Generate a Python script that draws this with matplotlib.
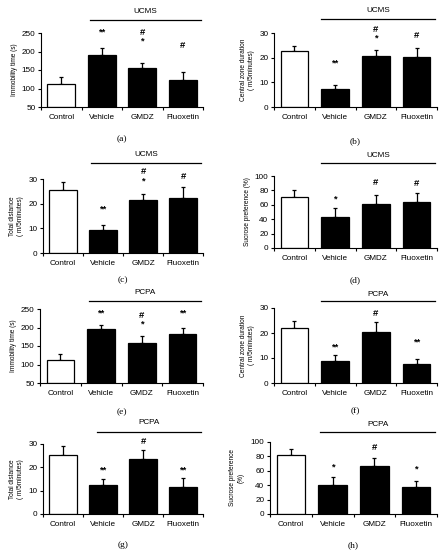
import numpy as np
import matplotlib
matplotlib.use("Agg")
import matplotlib.pyplot as plt
import matplotlib.transforms as mtransforms

plt.rcParams["font.family"] = ["Liberation Sans", "DejaVu Sans"]

# ─── data ────────────────────────────────────────────────────────────────────
groups = ["Control", "Vehicle", "GMDZ", "Fluoxetin"]

immob_ucms = [112, 191, 155, 123]
immob_ucms_err = [20, 18, 13, 22]
immob_ucms_sig = ["", "**", "#\n*", "#"]
immob_ucms_sig_y = [0, 240, 216, 203]

central_ucms = [22.6, 7.3, 20.5, 20.3]
central_ucms_err = [2.0, 1.5, 2.7, 3.6]
central_ucms_sig = ["", "**", "#\n*", "#"]
central_ucms_sig_y = [0, 16.0, 26.0, 27.0]

dist_ucms = [25.7, 9.2, 21.4, 22.3]
dist_ucms_err = [3.1, 2.0, 2.5, 4.5]
dist_ucms_sig = ["", "**", "#\n*", "#"]
dist_ucms_sig_y = [0, 16.0, 27.5, 29.0]

sucrose_ucms = [71.4, 42.4, 60.8, 64.5]
sucrose_ucms_err = [9.2, 12.9, 12.9, 11.5]
sucrose_ucms_sig = ["", "*", "#", "#"]
sucrose_ucms_sig_y = [0, 62, 85, 84]

immob_pcpa = [113, 196, 157, 183]
immob_pcpa_err = [16, 11, 19, 15]
immob_pcpa_sig = ["", "**", "#\n*", "**"]
immob_pcpa_sig_y = [0, 228, 196, 228]

central_pcpa = [22.2, 8.9, 20.6, 7.8]
central_pcpa_err = [2.7, 2.5, 3.8, 2.0]
central_pcpa_sig = ["", "**", "#", "**"]
central_pcpa_sig_y = [0, 12.5, 26.0, 14.5]

dist_pcpa = [25.4, 12.3, 23.6, 11.4]
dist_pcpa_err = [3.9, 2.8, 3.7, 4.0]
dist_pcpa_sig = ["", "**", "#", "**"]
dist_pcpa_sig_y = [0, 17.0, 29.0, 17.0]

sucrose_pcpa = [82.3, 40.5, 66.5, 37.7]
sucrose_pcpa_err = [7.7, 10.5, 11.2, 8.3]
sucrose_pcpa_sig = ["", "*", "#", "*"]
sucrose_pcpa_sig_y = [0, 59, 86, 56]

W, H = 444, 550
fig = plt.figure(figsize=(W / 100, H / 100), dpi=100)


def panel(box, vals, errs, sig, sig_y, ylim, yticks, ylabel, group, tag, tag_y, line_x0, ylabel_x=None):
    left, right, top, bottom = box
    ax = fig.add_axes([left / W, 1 - bottom / H, (right - left) / W, (bottom - top) / H])
    x = np.arange(len(groups))
    base = ylim[0]
    heights = np.array(vals) - base
    colors = ["white"] + ["black"] * (len(groups) - 1)
    ax.bar(x, heights, bottom=base, width=0.68, color=colors, edgecolor="black", linewidth=0.9, zorder=2)
    ax.errorbar(x, vals, yerr=[np.zeros(len(errs)), errs], fmt="none", ecolor="black",
                elinewidth=0.9, capsize=1.6, capthick=0.9, zorder=1)
    for xi, s, sy in zip(x, sig, sig_y):
        if s:
            ax.text(xi, sy, s, ha="center", va="bottom", fontsize=6.8, linespacing=1.0,
                    fontweight="bold")
    ax.set_xlim(-0.5, 3.5)
    ax.set_ylim(*ylim)
    ax.set_yticks(yticks)
    ax.set_xticks(x)
    ax.set_xticklabels(groups)
    ax.set_xticks(np.arange(-0.5, 4.0, 1.0), minor=True)
    ax.tick_params(axis="x", which="major", length=0, labelsize=5.9, pad=5)
    ax.tick_params(axis="x", which="minor", length=2.5, width=0.8)
    ax.tick_params(axis="y", length=2.5, width=0.8, labelsize=5.9, pad=1.5)
    for s in ["top", "right"]:
        ax.spines[s].set_visible(False)
    for s in ["left", "bottom"]:
        ax.spines[s].set_linewidth(0.8)
    ax.set_ylabel(ylabel, fontsize=4.7, labelpad=3, linespacing=1.3)
    if ylabel_x is not None:
        ax.yaxis.set_label_coords(ylabel_x, 0.5)

    # group bracket line + label
    trans = mtransforms.blended_transform_factory(ax.transData, ax.transAxes)
    h = bottom - top
    ly = 1 + (top - group[1]) / h
    ax.plot([line_x0, 3.45], [ly, ly], color="black", lw=0.9, transform=trans, clip_on=False)
    ax.text((line_x0 + 3.45) / 2, 1 + (top - group[2]) / h, group[0], transform=trans,
            ha="center", va="center", fontsize=5.9)
    fig.text((left + right) / 2 / W, 1 - tag_y / H, tag, ha="center", va="center",
             fontsize=6.8, family=["Liberation Serif", "DejaVu Serif"])
    return ax


panel((41, 203, 33, 107), immob_ucms, immob_ucms_err, immob_ucms_sig, immob_ucms_sig_y,
      (50, 250), [50, 100, 150, 200, 250], "Immobility time (s)", ("UCMS", 20, 11.5), "(a)", 139, 0.7)
panel((274, 437, 33, 107), central_ucms, central_ucms_err, central_ucms_sig, central_ucms_sig_y,
      (0, 30), [0, 10, 20, 30], "Central zone duration\n( m/5minutes)", ("UCMS", 19, 10.5), "(b)", 141, 0.65)
panel((43, 203, 179, 253), dist_ucms, dist_ucms_err, dist_ucms_sig, dist_ucms_sig_y,
      (0, 30), [0, 10, 20, 30], "Total distance\n( m/5minutes)", ("UCMS", 163, 155), "(c)", 280, 0.7)
panel((274, 437, 176, 248), sucrose_ucms, sucrose_ucms_err, sucrose_ucms_sig, sucrose_ucms_sig_y,
      (0, 100), [0, 20, 40, 60, 80, 100], "Sucrose preference (%)", ("UCMS", 163, 155), "(d)", 280, 0.65)
panel((40, 203, 309, 383), immob_pcpa, immob_pcpa_err, immob_pcpa_sig, immob_pcpa_sig_y,
      (50, 250), [50, 100, 150, 200, 250], "Immobility time (s)", ("PCPA", 301, 293), "(e)", 412, 0.7)
panel((274, 437, 308, 383), central_pcpa, central_pcpa_err, central_pcpa_sig, central_pcpa_sig_y,
      (0, 30), [0, 10, 20, 30], "Central zone duration\n( m/5minutes)", ("PCPA", 301, 294), "(f)", 411, 0.65)
panel((43, 203, 444, 514), dist_pcpa, dist_pcpa_err, dist_pcpa_sig, dist_pcpa_sig_y,
      (0, 30), [0, 10, 20, 30], "Total distance\n( m/5minutes)", ("PCPA", 432, 423), "(g)", 545, 0.85)
panel((270, 437, 442, 514), sucrose_pcpa, sucrose_pcpa_err, sucrose_pcpa_sig, sucrose_pcpa_sig_y,
      (0, 100), [0, 20, 40, 60, 80, 100], "Sucrose preference\n(%)", ("PCPA", 432, 424), "(h)", 545, 0.7,
      ylabel_x=-0.15)

fig.savefig("out.png", dpi=100)
